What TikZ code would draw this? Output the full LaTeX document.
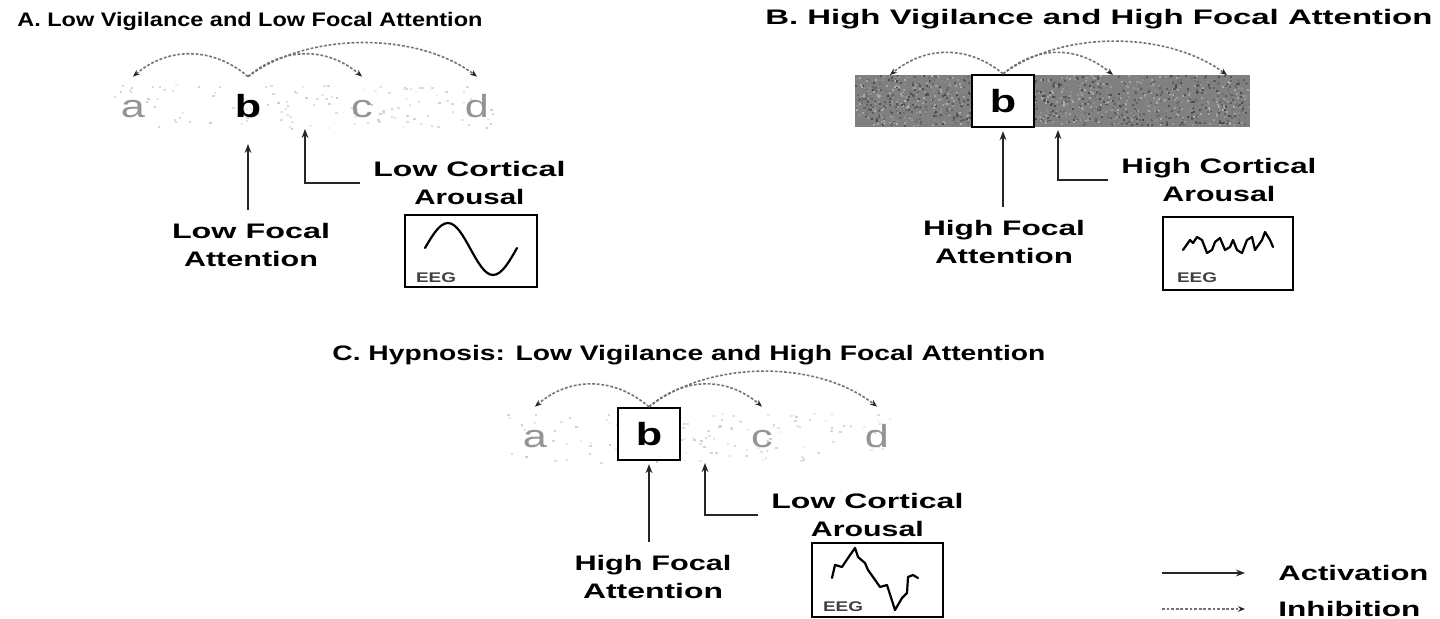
\documentclass[tikz,border=0pt]{standalone}
\usepackage{fontspec}
\setmainfont{Liberation Sans}
\usepackage{graphicx}
\usetikzlibrary{arrows.meta}
\newlength\pxu
\setlength\pxu{0.5pt}
% set a line of text to a given width (in px units), keeping its height
\newcommand\sw[2]{\resizebox{#1\pxu}{\height}{#2}}
% widened single letter
\newcommand\lt[1]{\scalebox{1.35}[1]{#1}}

\begin{document}
\begin{tikzpicture}[x=0.5pt,y=-0.5pt,
  act/.style={draw=black!85, line width=1.2pt, -{Stealth[length=4.5pt,width=3.4pt]}},
  inh/.style={draw=black!55, line width=0.8pt, dash pattern=on 1.4pt off 0.9pt,
              -{Stealth[length=3.5pt,width=2.8pt,color=black!85]}},
  letter/.style={font=\fontsize{16}{16}\selectfont, text=black!42, text height=11.7pt,
                 text depth=0pt, inner xsep=0pt, inner ysep=8.8pt, anchor=base},
  bletter/.style={letter, text=black, font=\fontsize{16}{16}\selectfont\bfseries},
  bbox/.style={draw, line width=1.2pt, fill=white, minimum width=31pt, minimum height=26pt,
               inner sep=0pt, text height=11.7pt, text depth=0pt,
               font=\fontsize{16}{16}\selectfont\bfseries},
  title/.style={anchor=base west, inner sep=0pt},
  lab/.style={align=center, inner xsep=6.5pt, inner ysep=6.5pt,
              font=\fontsize{10.5}{14}\selectfont\bfseries},
  eeg/.style={draw, line width=1.2pt, inner sep=0pt},
  eegtxt/.style={font=\fontsize{7}{7}\selectfont\bfseries, inner sep=0pt, text=black!75},
  wave/.style={line width=1.1pt, line join=round, line cap=round},
]
\useasboundingbox (0,0) rectangle (1440,619);

% ---------------- titles ----------------
\node[title, font=\fontsize{9.8}{9.8}\selectfont\bfseries] (tA) at (17,27)
  {\sw{465}{A. Low Vigilance and Low Focal Attention}};
\node[title, font=\fontsize{10.5}{10.5}\selectfont\bfseries] (tB) at (765,25)
  {\sw{667}{B. High Vigilance and High Focal Attention}};
\node[title, font=\fontsize{10.5}{10.5}\selectfont\bfseries] (tC) at (332,361)
  {\sw{713}{C. Hypnosis: Low Vigilance and High Focal Attention}};

% ---------------- speckled fields ----------------
\pgfmathsetseed{3}
\foreach \i in {1,...,130}{
  \pgfmathsetmacro\px{113+385*rnd}\pgfmathsetmacro\py{84+44*rnd}
  \pgfmathsetmacro\g{int(6+14*rnd)}
  \fill[black!\g] (\px,\py) rectangle +(2.5,2);
}
\foreach \i in {1,...,130}{
  \pgfmathsetmacro\px{505+395*rnd}\pgfmathsetmacro\py{412+50*rnd}
  \pgfmathsetmacro\g{int(6+14*rnd)}
  \fill[black!\g] (\px,\py) rectangle +(2.5,2);
}
\node[fill=black!50, minimum width=197.5pt, minimum height=26pt, inner sep=0pt]
  (bandB) at (1052.5,101) {};
\foreach \i in {1,...,1500}{
  \pgfmathsetmacro\px{855+393*rnd}\pgfmathsetmacro\py{75+50*rnd}
  \pgfmathsetmacro\g{int(32+40*rnd)}
  \fill[black!\g] (\px,\py) rectangle +(2,2);
}

% ---------------- panel A ----------------
\node[letter]  (aA) at (133,118) {\lt{a}};
\node[bletter] (bA) at (248,118) {\lt{b}};
\node[letter]  (cA) at (362,118) {\lt{c}};
\node[letter]  (dA) at (477,118) {\lt{d}};
\draw[inh] (bA.north) .. controls +(-35,-30) and +(35,-30) .. (aA.north);
\draw[inh] (bA.north) .. controls +(35,-30) and +(-35,-30) .. (cA.north);
\draw[inh] (bA.north) .. controls +(60,-45) and +(-60,-45) .. (dA.north);

\node[lab, anchor=north] (fA) at (251,210) {\sw{158}{Low Focal}\\\sw{134}{Attention}};
\draw[act, shorten >=4pt] (fA.north -| bA.south) -- (bA.south);
\node[lab, anchor=west] (kA) at (360,183) {\sw{192}{Low Cortical}\\\sw{110}{Arousal}};
\coordinate (hA) at (305,129);
\draw[act] (kA.west) -| (hA);

\node[eeg, minimum width=66pt, minimum height=36pt] (eA) at (471,251) {};
\draw[wave] (425,248) sin (448,223) cos (470.5,249) sin (493,275) cos (517,248);
\node[eegtxt] (gA) at (436,278) {\sw{40}{EEG}};

% ---------------- panel B ----------------
\node[bbox] (bB) at (1003,101) {\lt{b}};
\coordinate (aB) at (890,75);
\coordinate (cB) at (1113,75);
\coordinate (dB) at (1227,75);
\draw[inh] (bB.north) .. controls +(-35,-29) and +(35,-29) .. (aB);
\draw[inh] (bB.north) .. controls +(35,-29) and +(-35,-29) .. (cB);
\draw[inh] (bB.north) .. controls +(60,-44) and +(-60,-44) .. (dB);

\node[lab, anchor=north] (fB) at (1004,207) {\sw{162}{High Focal}\\\sw{138}{Attention}};
\draw[act, shorten >=1.5pt] (fB.north -| bB.south) -- (bB.south);
\node[lab, anchor=west] (kB) at (1108,180) {\sw{195}{High Cortical}\\\sw{113}{Arousal}};
\coordinate (hB) at (1058,130);
\draw[act] (kB.west) -| (hB);

\node[eeg, minimum width=65pt, minimum height=36.5pt] (eB) at (1228,253.5) {};
\draw[wave] (1183,250) -- (1190,240) -- (1193,243) -- (1197,237) -- (1202,240)
  -- (1207,253) -- (1212,250) -- (1215,242) -- (1220,238) -- (1225,250) -- (1230,247)
  -- (1233,240) -- (1237,250) -- (1242,253) -- (1247,240) -- (1252,237) -- (1255,250)
  -- (1262,240) -- (1265,232) -- (1270,240) -- (1273,247);
\node[eegtxt] (gB) at (1197,278) {\sw{40}{EEG}};

% ---------------- panel C ----------------
\node[letter] (aC) at (535,448) {\lt{a}};
\node[bbox]   (bC) at (649,434) {\lt{b}};
\node[letter] (cC) at (762,448) {\lt{c}};
\node[letter] (dC) at (877,448) {\lt{d}};
\draw[inh] (bC.north) .. controls +(-35,-30) and +(35,-30) .. (aC.north);
\draw[inh] (bC.north) .. controls +(35,-30) and +(-35,-30) .. (cC.north);
\draw[inh] (bC.north) .. controls +(60,-47) and +(-60,-47) .. (dC.north);

\node[lab, anchor=north] (fC) at (653,542) {\sw{157}{High Focal}\\\sw{140}{Attention}};
\draw[act, shorten >=1.5pt] (fC.north -| bC.south) -- (bC.south);
\node[lab, anchor=west] (kC) at (758,515) {\sw{192}{Low Cortical}\\\sw{113}{Arousal}};
\coordinate (hC) at (705,463);
\draw[act] (kC.west) -| (hC);

\node[eeg, minimum width=65.5pt, minimum height=37pt] (eC) at (877.5,580) {};
\draw[wave] (832,578) -- (835,565) -- (842,567) -- (848,558) -- (855,548) -- (858,557)
  -- (865,563) -- (868,570) -- (873,577) -- (880,587) -- (887,585) -- (895,610)
  -- (902,598) -- (907,593) -- (908,577) -- (913,575) -- (918,578);
\node[eegtxt] (gC) at (843,607) {\sw{40}{EEG}};

% ---------------- legend ----------------
\coordinate (la0) at (1162,573);
\coordinate (la1) at (1245,573);
\draw[act] (la0) -- (la1);
\node[lab, anchor=west, inner sep=0pt] (lA) at (1278,573) {\sw{150}{Activation}};
\coordinate (li0) at (1162,609);
\coordinate (li1) at (1245,609);
\draw[inh] (li0) -- (li1);
\node[lab, anchor=west, inner sep=0pt] (lI) at (1278,609) {\sw{142}{Inhibition}};
\end{tikzpicture}
\end{document}
